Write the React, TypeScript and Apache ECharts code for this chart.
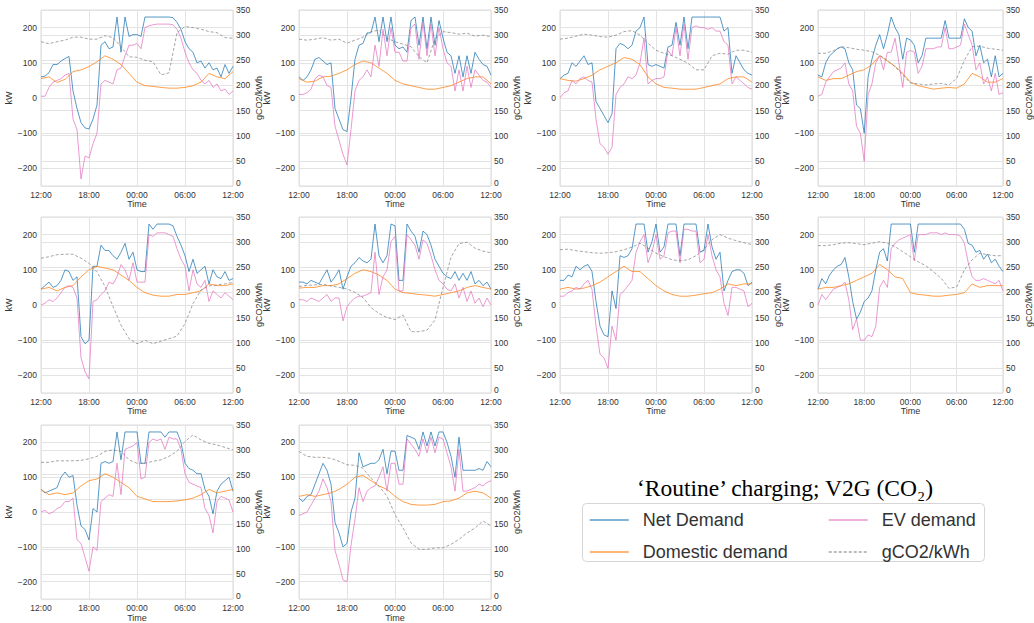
import React, { useEffect, useRef } from "react";
import * as echarts from "echarts";

// ---------- data ----------
const timeLabels = ["12:00", "18:00", "00:00", "06:00", "12:00"];
const kwTicks = [-200, -100, 0, 100, 200];
const seriesNames = ["Net Demand", "Domestic demand", "EV demand", "gCO2/kWh"];
const titleText = "\u2018Routine\u2019 charging; V2G (CO\u2082)";

// half-hourly values (12:00 -> 12:00), kW
const netDemand: number[][] = [
  [60,62,72,95,95,105,112,118,20,-30,-70,-85,-88,-60,-20,150,160,140,145,230,130,230,175,180,180,175,230,230,230,230,230,230,230,228,215,195,160,140,130,100,105,85,100,80,85,60,95,70,90],
  [60,50,60,80,110,115,105,95,100,-30,-60,-90,-95,0,110,150,155,185,185,230,160,230,160,230,150,140,145,130,220,230,150,230,140,230,150,220,170,130,120,70,120,60,120,70,130,110,95,90,65],
  [55,65,70,100,90,105,120,95,100,-10,-30,-50,-70,-45,140,155,150,140,150,190,200,230,95,90,95,90,85,145,150,215,150,230,140,230,230,230,230,230,230,230,230,190,200,70,120,100,80,70,65],
  [65,60,100,120,130,140,145,140,100,80,-20,-30,-100,60,110,150,180,140,180,230,200,180,110,170,165,150,100,120,170,170,170,170,170,220,170,170,170,170,225,200,190,120,150,100,110,60,120,60,70],
  [45,55,65,50,55,70,100,95,70,80,-90,-110,-100,110,110,170,155,155,140,130,150,175,130,150,100,95,95,230,215,230,230,230,230,225,195,170,140,95,130,90,100,110,60,100,80,75,95,70,75],
  [65,65,60,70,65,60,80,100,65,80,100,45,80,110,120,135,125,120,130,230,140,120,140,230,225,70,70,230,210,195,150,210,200,170,130,110,90,80,75,95,70,90,70,95,60,70,55,65,45],
  [70,70,85,80,110,100,110,115,95,10,-60,-85,-90,40,-10,140,135,140,160,230,230,230,150,180,230,150,165,230,230,230,140,230,230,230,230,150,155,230,165,130,150,40,70,95,100,100,90,55,65],
  [45,75,60,85,100,110,115,135,80,10,-40,-20,10,20,40,100,150,160,125,230,230,230,230,230,230,150,230,230,230,230,230,230,230,230,230,230,230,230,215,175,170,150,155,130,145,120,130,110,95],
  [65,55,60,65,70,100,115,100,105,20,-40,-50,-80,10,0,140,145,140,145,230,150,230,230,230,230,140,140,230,230,230,230,215,230,230,230,200,140,125,120,110,110,65,45,-5,60,80,90,100,60],
  [40,30,45,50,80,110,140,120,80,-30,-60,-100,-90,0,40,170,130,135,140,140,150,180,110,175,175,120,120,220,215,210,180,230,190,230,190,230,230,200,160,100,215,120,120,120,120,125,120,145,130],
];

const evDemand: number[][] = [
  [5,5,30,45,50,55,65,70,-60,-90,-230,-165,-170,-130,-100,40,50,45,40,80,85,120,150,150,155,140,200,205,208,210,210,210,210,208,195,170,130,100,80,70,50,40,50,30,40,20,25,10,20],
  [10,10,15,25,55,65,60,35,30,-80,-120,-160,-190,-90,20,50,60,80,60,150,90,195,120,200,130,130,105,105,200,210,110,215,120,210,120,200,140,100,90,20,80,20,90,30,80,65,50,45,30],
  [0,15,20,50,40,55,60,50,45,-60,-130,-140,-160,-140,10,30,40,60,55,65,100,170,40,50,55,55,60,135,120,200,120,210,110,200,205,200,200,195,200,190,190,160,150,40,60,50,40,30,25],
  [5,10,45,60,75,80,85,100,40,20,-80,-100,-180,10,40,100,120,80,130,130,170,100,30,130,135,130,70,90,140,140,140,145,145,200,140,140,145,150,210,180,150,80,100,40,60,20,70,10,15],
  [0,5,15,10,20,35,50,55,50,20,-150,-190,-210,10,15,30,40,65,60,80,115,100,70,120,65,65,65,200,195,205,205,205,200,195,160,130,110,40,100,60,50,70,10,40,30,20,35,25,15],
  [15,15,10,20,15,10,20,30,10,20,20,-45,-5,10,20,25,25,30,35,150,30,80,100,180,195,40,40,200,185,170,130,185,175,140,100,70,60,45,40,60,20,50,10,40,5,20,-5,20,0],
  [25,25,35,40,50,45,60,70,45,-60,-140,-150,-180,-60,-100,30,40,55,70,150,180,200,120,150,200,130,140,205,210,210,120,215,215,210,210,120,130,200,140,100,80,5,-30,50,50,45,40,-5,5],
  [0,30,15,30,45,50,55,65,15,-70,-40,-100,-100,-85,-90,-60,50,70,50,160,175,185,190,195,200,125,200,200,200,205,205,205,200,205,200,200,200,195,175,120,80,70,70,75,70,65,60,70,40],
  [0,5,-5,0,10,15,30,30,40,-80,-90,-130,-170,-100,-110,30,40,50,45,140,50,180,185,190,200,95,100,200,210,205,210,180,215,210,210,180,110,85,80,75,70,10,-10,-60,30,45,40,35,0],
  [-10,-5,0,20,40,60,95,70,30,-110,-150,-195,-200,-95,-20,70,30,60,70,75,100,130,60,140,140,80,80,210,195,180,160,210,170,215,170,215,210,170,130,60,180,60,60,65,70,80,75,85,90],
];

// hourly values (12:00 -> 12:00), kW
const domesticDemand: number[][] = [
  [55,60,44,53,75,80,89,103,120,110,95,70,45,35,33,30,28,28,30,35,45,70,60,55,75],
  [55,45,48,60,62,70,80,95,105,100,85,70,50,40,35,30,25,25,30,35,45,55,60,60,40],
  [55,50,48,55,65,80,90,100,115,110,95,60,40,30,28,25,25,25,30,35,40,55,60,60,45],
  [60,50,55,55,65,75,80,95,120,105,90,70,45,35,30,25,28,30,28,40,70,60,45,45,55],
  [45,50,40,50,55,80,100,110,105,100,85,70,50,35,28,25,25,30,30,35,40,60,55,55,60],
  [48,50,50,55,55,60,75,90,100,95,85,70,45,35,33,30,28,25,30,35,40,50,55,50,45],
  [45,50,45,48,55,65,80,95,110,95,95,75,55,40,30,25,25,28,32,35,45,60,55,60,60],
  [45,50,50,55,60,70,80,90,115,100,80,75,35,30,28,25,25,28,30,35,60,50,55,55,55],
  [65,50,55,50,55,75,90,95,110,100,85,70,45,38,30,30,30,32,35,40,50,65,55,60,65],
  [45,50,45,50,55,65,80,100,105,90,75,65,45,30,22,20,20,22,30,32,40,55,60,55,40],
];

// hourly values (12:00 -> 12:00), gCO2/kWh
const carbonIntensity: number[][] = [
  [287,283,287,290,296,296,292,292,299,295,277,257,256,250,247,221,225,305,317,315,312,307,305,295,294],
  [292,290,292,295,290,292,284,290,296,307,310,294,287,282,277,257,245,293,307,305,302,304,298,300,297],
  [292,294,298,302,300,297,296,300,307,309,300,284,270,264,259,252,244,231,231,259,264,262,270,270,266],
  [264,264,269,277,275,272,270,267,260,250,237,221,205,203,201,203,204,201,214,250,277,278,274,272,270],
  [268,271,275,276,276,268,258,241,212,172,135,108,98,105,98,103,108,113,138,178,205,213,215,217,220],
  [212,214,215,216,213,210,207,200,190,170,158,150,146,155,122,122,125,145,210,270,297,300,288,282,279],
  [285,286,283,281,279,278,279,281,285,290,298,288,278,271,265,263,265,273,286,305,315,308,303,299,295],
  [293,293,295,298,299,297,295,298,301,298,291,281,271,261,253,241,228,208,211,245,265,278,275,273,273],
  [275,275,278,278,278,279,282,287,297,300,297,280,273,273,277,280,287,297,317,330,320,313,310,305,300],
  [297,287,285,285,283,277,270,269,263,243,227,207,170,143,113,100,100,103,103,110,120,133,143,157,147],
];

// ---------- style / layout ----------
const FONT = "'Liberation Sans', Arial, sans-serif";
const SERIF = "'Liberation Serif', 'DejaVu Serif', serif";
const GRID_C = "#e3e3e3";
const TXT = "#333333";
const COLORS = [
  "rgba(31,119,180,0.75)",
  "rgba(255,127,14,0.75)",
  "rgba(227,119,194,0.75)",
  "rgba(127,127,127,0.7)",
];
const colLeft = [41, 299, 560, 818];
const rowTop = [10, 217, 425];
const PW = 192;
const PH = 176;

function fmtKw(v: number): string {
  if (Math.abs(v) % 100 !== 0) return "";
  if (v < 0) return "\u2212" + String(-v);
  return String(v);
}

function fmtCo2(v: number): string {
  return v === 0 ? "{lo|0}" : String(v);
}

function buildOption() {
  const grid: any[] = [];
  const xAxis: any[] = [];
  const yAxis: any[] = [];
  const series: any[] = [];
  const lbl = { fontSize: 8.5, color: TXT, fontFamily: FONT };

  for (let i = 0; i < netDemand.length; i++) {
    const r = Math.floor(i / 4);
    const c = i % 4;
    grid.push({
      left: colLeft[c],
      top: rowTop[r],
      width: PW,
      height: PH,
      show: true,
      borderColor: "#dadada",
      borderWidth: 1,
      backgroundColor: "transparent",
    });
    xAxis.push({
      type: "value",
      gridIndex: i,
      min: 0,
      max: 24,
      interval: 6,
      axisLine: { show: false },
      axisTick: { show: false },
      splitLine: { show: true, lineStyle: { color: GRID_C, width: 1 } },
      axisLabel: { ...lbl, margin: 4, formatter: (v: number) => timeLabels[Math.round(v / 6)] },
      name: "Time",
      nameLocation: "middle",
      nameGap: 11,
      nameTextStyle: { ...lbl, fontSize: 9 },
    });
    yAxis.push({
      type: "value",
      gridIndex: i,
      position: "left",
      min: -250,
      max: 250,
      interval: 50,
      axisLine: { show: false },
      axisTick: { show: false },
      splitLine: { show: false },
      axisLabel: { ...lbl, margin: 4, formatter: fmtKw },
      name: "kW",
      nameLocation: "middle",
      nameRotate: 90,
      nameGap: 20,
      nameTextStyle: { ...lbl, fontSize: 9 },
    });
    yAxis.push({
      type: "value",
      gridIndex: i,
      position: "right",
      min: 0,
      max: 350,
      interval: 50,
      axisLine: { show: false },
      axisTick: { show: false },
      splitLine: { show: true, lineStyle: { color: GRID_C, width: 1 } },
      axisLabel: {
        ...lbl,
        margin: 3,
        formatter: fmtCo2,
        rich: { lo: { ...lbl, padding: [0, 0, 6, 0] } },
      },
      name: "gCO2/kWh",
      nameLocation: "middle",
      nameRotate: 90,
      nameGap: 15,
      nameTextStyle: { ...lbl, fontSize: 9 },
    });

    const base = {
      type: "line",
      xAxisIndex: i,
      symbol: "none",
      showSymbol: false,
      silent: true,
      animation: false,
    };
    series.push({
      ...base,
      name: seriesNames[0],
      yAxisIndex: 2 * i,
      data: netDemand[i].map((v, k) => [k * 0.5, v]),
      lineStyle: { width: 1, color: COLORS[0] },
      itemStyle: { color: COLORS[0] },
    });
    series.push({
      ...base,
      name: seriesNames[1],
      yAxisIndex: 2 * i,
      data: domesticDemand[i].map((v, k) => [k, v]),
      lineStyle: { width: 1, color: COLORS[1] },
      itemStyle: { color: COLORS[1] },
      markLine: {
        silent: true,
        z: 1,
        symbol: ["none", "none"],
        label: { show: false },
        emphasis: { disabled: true },
        lineStyle: { color: GRID_C, width: 1, type: "solid" },
        data: kwTicks.map((v) => ({ yAxis: v })),
        animation: false,
      },
    });
    series.push({
      ...base,
      name: seriesNames[2],
      yAxisIndex: 2 * i,
      data: evDemand[i].map((v, k) => [k * 0.5, v]),
      lineStyle: { width: 1, color: COLORS[2] },
      itemStyle: { color: COLORS[2] },
    });
    series.push({
      ...base,
      name: seriesNames[3],
      yAxisIndex: 2 * i + 1,
      data: carbonIntensity[i].map((v, k) => [k, v]),
      lineStyle: { width: 1, color: COLORS[3], type: [3, 2] },
      itemStyle: { color: COLORS[3] },
    });
  }

  const legendBase = {
    orient: "vertical",
    top: 511,
    itemWidth: 39,
    itemHeight: 14,
    itemGap: 14,
    padding: 0,
    selectedMode: false,
    lineStyle: { width: 1.5 },
    itemStyle: { opacity: 0, borderWidth: 0 },
    textStyle: { fontSize: 18, color: TXT, fontFamily: FONT, padding: [0, 0, 0, 9] },
  };

  return {
    animation: false,
    backgroundColor: "#ffffff",
    grid,
    xAxis,
    yAxis,
    series,
    legend: [
      { ...legendBase, left: 589, data: [seriesNames[0], seriesNames[1]] },
      { ...legendBase, left: 828, data: [seriesNames[2], seriesNames[3]] },
    ],
    graphic: [
      {
        type: "rect",
        shape: { x: 582.5, y: 503.5, width: 402, height: 58, r: 4 },
        style: { fill: "none", stroke: "#d6d6d6", lineWidth: 1 },
        silent: true,
      },
      {
        type: "text",
        x: 785,
        y: 488,
        style: {
          text: titleText,
          fontSize: 23.5,
          fontFamily: SERIF,
          fill: "#000000",
          textAlign: "center",
          textVerticalAlign: "middle",
        },
        silent: true,
      },
    ],
  };
}

export default function App() {
  const ref = useRef<HTMLDivElement>(null);
  useEffect(() => {
    if (!ref.current) return;
    const chart = echarts.init(ref.current, undefined, { renderer: "svg" });
    chart.setOption(buildOption() as any);
    return () => chart.dispose();
  }, []);
  return (
    <div
      ref={ref}
      style={{ position: "absolute", left: 0, top: 0, width: 1034, height: 623, background: "#fff" }}
    />
  );
}
